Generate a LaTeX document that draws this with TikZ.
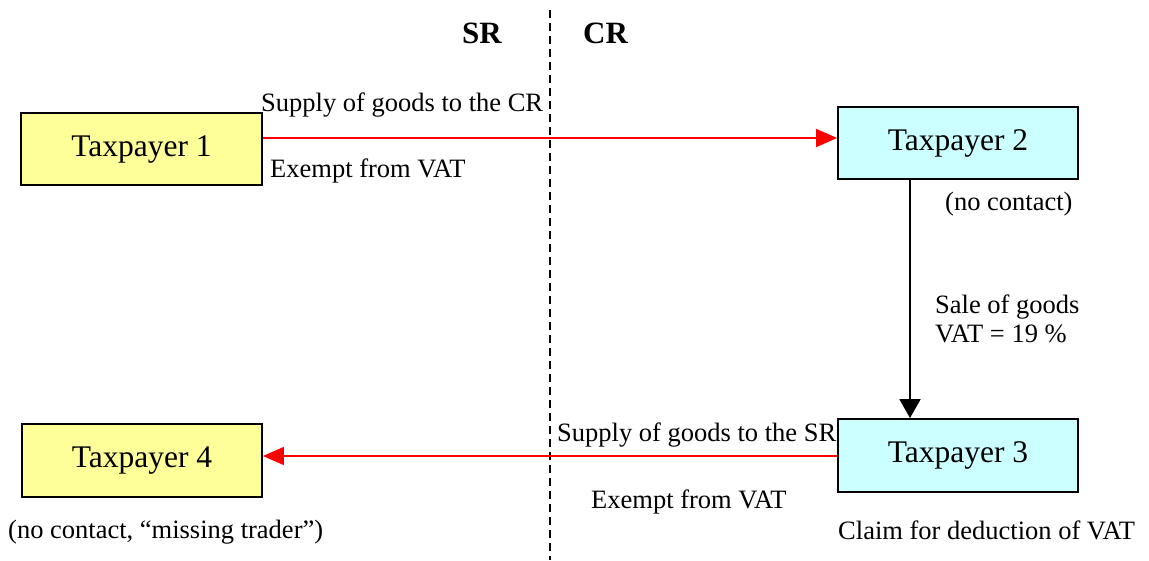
\documentclass[tikz,border=0pt]{standalone}
\usepackage{fontspec}
\setmainfont{Liberation Serif}
\usetikzlibrary{arrows.meta}
\definecolor{boxyellow}{HTML}{FFFF99}
\definecolor{boxcyan}{HTML}{CCFFFF}
\tikzset{
  taxbox/.style={draw=black, line width=1.8pt, minimum width=240pt, minimum height=72pt, inner sep=0pt, font=\fontsize{31.5}{36}\selectfont},
  yellowbox/.style={taxbox, fill=boxyellow},
  cyanbox/.style={taxbox, fill=boxcyan},
  lbl/.style={anchor=base west, inner sep=0pt, font=\fontsize{26.5}{30}\selectfont},
  head/.style={anchor=base west, inner sep=0pt, font=\fontsize{31}{36}\selectfont\bfseries},
  redarrow/.style={draw=red, line width=1.6pt, -{Triangle[length=21pt,width=18pt]}},
  blackarrow/.style={draw=black, line width=1.8pt, -{Triangle[length=19pt,width=21pt]}},
  border/.style={draw=black, line width=1.4pt, dash pattern=on 8pt off 5pt}
}
\begin{document}
\begin{tikzpicture}[x=1pt,y=-1pt]
\useasboundingbox (0,0) rectangle (1149,560);
% border line
\coordinate (btop) at (550,10);
\coordinate (bbot) at (550,560);
\draw[border] (btop) -- (bbot);
\node[head] (sr) at (462,43) {SR};
\node[head] (cr) at (583,43) {CR};
% boxes
\node[yellowbox, minimum width=241pt] (t1) at (141.5,149) {Taxpayer 1};
\node[cyanbox] (t2) at (958,143) {Taxpayer 2};
\node[cyanbox, minimum height=73pt] (t3) at (958,455.5) {Taxpayer 3};
\node[yellowbox, minimum height=73pt] (t4) at (142,460.5) {Taxpayer 4};
% connectors
\draw[redarrow] ([yshift=11pt]t1.east) -- ([yshift=5pt]t2.west);
\draw[blackarrow] ([xshift=-48pt]t2.south) -- ([xshift=-48pt]t3.north);
\draw[redarrow] ([yshift=-0.5pt]t3.west) -- ([yshift=4.5pt]t4.east);
% labels
\node[lbl] (l1) at (261,111) {Supply of goods to the CR};
\node[lbl] (l2) at (270,177) {Exempt from VAT};
\node[lbl] (l3) at (945,210) {(no contact)};
\node[lbl] (l4) at (935,313) {Sale of goods};
\node[lbl] (l5) at (935,342) {VAT = 19 \%};
\node[lbl] (l6) at (557,441) {Supply of goods to the SR};
\node[lbl] (l7) at (591,508) {Exempt from VAT};
\node[lbl] (l8) at (838,539) {Claim for deduction of VAT};
\node[lbl] (l9) at (8,538) {(no contact, “missing trader”)};
\end{tikzpicture}
\end{document}
